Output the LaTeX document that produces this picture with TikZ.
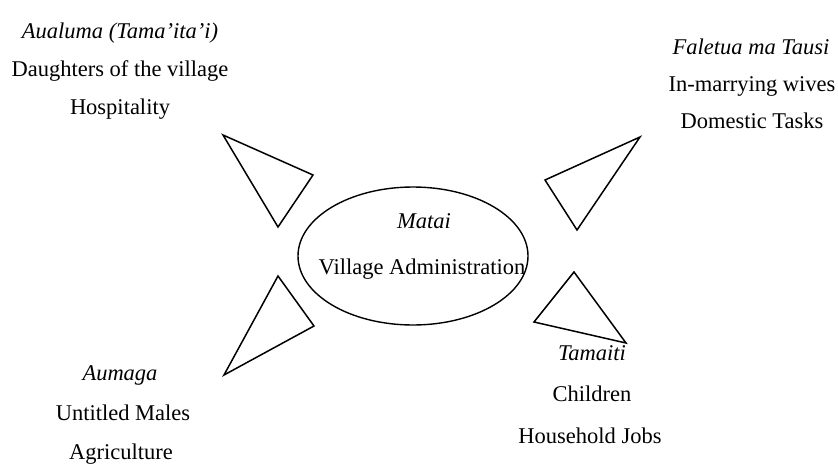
\documentclass[tikz,border=0pt]{standalone}
\usepackage{fontspec}
\setmainfont{Liberation Serif}
\usetikzlibrary{shapes.geometric}
\begin{document}
\begin{tikzpicture}[x=1pt,y=-1pt,
  lbl/.style={anchor=base,inner sep=0pt,font=\fontsize{22.5}{27}\selectfont},
  ttl/.style={lbl,font=\fontsize{22.5}{27}\selectfont\itshape},
  tri/.style={draw=black,line width=1.5pt,line join=miter}]
\useasboundingbox (0,0) rectangle (838,466);
% centre
\node[draw=black,line width=1.4pt,ellipse,minimum width=230pt,minimum height=138pt,inner sep=0pt] (ctr) at (413,256) {};
\node[ttl] (matai) at (424,228) {Matai};
\node[lbl] (vadm) at (422,274) {Village Administration};
% top-left
\node[ttl] (aual) at (120,38) {Aualuma (Tama'ita'i)};
\node[lbl] (daug) at (120,76) {Daughters of the village};
\node[lbl] (hosp) at (120,114) {Hospitality};
% top-right
\node[ttl] (fale) at (751,54) {Faletua ma Tausi};
\node[lbl] (inmar) at (752,91) {In-marrying wives};
\node[lbl] (dome) at (752,128) {Domestic Tasks};
% bottom-left
\node[ttl] (aum) at (120,380) {Aumaga};
\node[lbl] (untit) at (123,420) {Untitled Males};
\node[lbl] (agri) at (121,459) {Agriculture};
% bottom-right
\node[ttl] (tama) at (592,360) {Tamaiti};
\node[lbl] (chil) at (592,401) {Children};
\node[lbl] (hous) at (590,443) {Household Jobs};
% triangles
\draw[tri] (223,135) -- (313,175) -- (278,227) -- cycle;
\draw[tri] (545,180) -- (577,230) -- (640,137) -- cycle;
\draw[tri] (278,276) -- (314,326) -- (224,375) -- cycle;
\draw[tri] (574,272) -- (534,322) -- (626,343) -- cycle;
\end{tikzpicture}
\end{document}
